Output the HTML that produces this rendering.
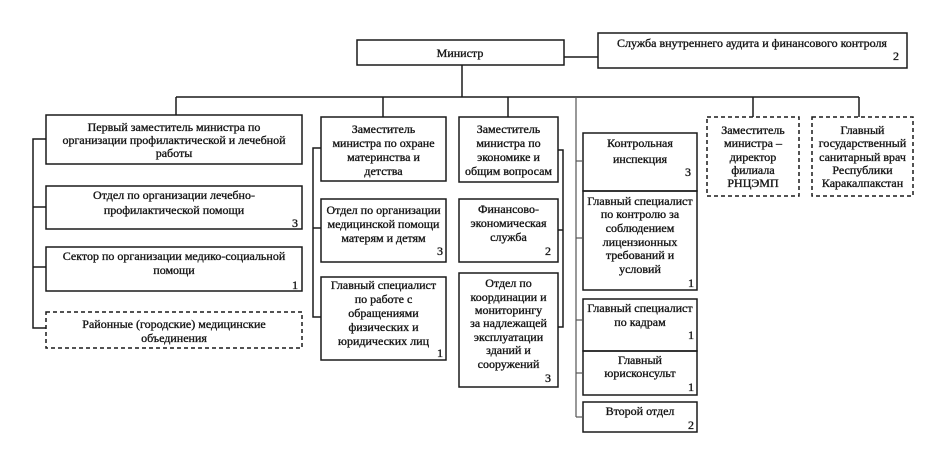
<!DOCTYPE html>
<html><head><meta charset="utf-8"><style>
html,body{margin:0;padding:0;background:#fff;}
svg{display:block;}
text{font-family:"Liberation Serif",serif;font-size:12px;font-weight:normal;fill:#151515;stroke:#151515;stroke-width:0.35;dominant-baseline:central;}
.c{text-anchor:middle;}
.r{text-anchor:end;}
</style></head><body>
<svg width="944" height="462" viewBox="0 0 944 462" xmlns="http://www.w3.org/2000/svg">
<g fill="none" stroke="#1a1a1a" stroke-width="1.5">
<!-- top -->
<rect x="357" y="40" width="207" height="25"/>
<rect x="598" y="33" width="309" height="35"/>
<line x1="564" y1="57" x2="598" y2="57"/>
<line x1="462" y1="65" x2="462" y2="97"/>
<line x1="176" y1="97" x2="859" y2="97"/>
<line x1="176" y1="97" x2="176" y2="115"/>
<line x1="383" y1="97" x2="383" y2="117"/>
<line x1="508" y1="97" x2="508" y2="117"/>
<line x1="753" y1="97" x2="753" y2="117"/>
<line x1="859" y1="97" x2="859" y2="117"/>
<!-- col1 -->
<rect x="46" y="115" width="256" height="49"/>
<rect x="46" y="186" width="256" height="43"/>
<rect x="46" y="247" width="256" height="44"/>
<rect x="46" y="312" width="256" height="36" stroke-dasharray="4 3"/>
<polyline points="46,139 33,139 33,328 46,328"/>
<line x1="33" y1="207" x2="46" y2="207"/>
<line x1="33" y1="267" x2="46" y2="267"/>
<!-- col2 -->
<rect x="321" y="117" width="125" height="64"/>
<rect x="321" y="199" width="125" height="63"/>
<rect x="321" y="277" width="125" height="83"/>
<polyline points="321,148 313,148 313,317 321,317"/>
<line x1="313" y1="228" x2="321" y2="228"/>
<!-- col3 -->
<rect x="459" y="117" width="99" height="65"/>
<rect x="459" y="199" width="99" height="63"/>
<rect x="459" y="273" width="99" height="114"/>
<polyline points="558,150 563,150 563,327 558,327"/>
<line x1="558" y1="230" x2="563" y2="230"/>
<!-- col4 -->
<rect x="583" y="133" width="114" height="58"/>
<rect x="583" y="191" width="114" height="99"/>
<rect x="583" y="299" width="114" height="52"/>
<rect x="583" y="351" width="114" height="44"/>
<rect x="583" y="402" width="114" height="30"/>
</g>
<g fill="none" stroke="#555" stroke-width="1.2">
<line x1="576" y1="97" x2="576" y2="417"/>
<line x1="576" y1="161" x2="583" y2="161"/>
<line x1="576" y1="238" x2="583" y2="238"/>
<line x1="576" y1="320" x2="583" y2="320"/>
<line x1="576" y1="373" x2="583" y2="373"/>
<line x1="576" y1="417" x2="583" y2="417"/>
</g>
<g fill="none" stroke="#1a1a1a" stroke-width="1.5" stroke-dasharray="4 3">
<rect x="707" y="117" width="92" height="79"/>
<rect x="812" y="117" width="101" height="79"/>
</g>

<text class="c" x="460" y="53">Министр</text>
<text class="c" x="752" y="43">Служба внутреннего аудита и финансового контроля</text>
<text class="r" x="899" y="56">2</text>

<text class="c" x="174" y="127">Первый заместитель министра по</text>
<text class="c" x="174" y="140">организации профилактической и лечебной</text>
<text class="c" x="174" y="153">работы</text>

<text class="c" x="174" y="195">Отдел по организации лечебно-</text>
<text class="c" x="174" y="210">профилактической помощи</text>
<text class="r" x="298" y="223">3</text>

<text class="c" x="174" y="256">Сектор по организации медико-социальной</text>
<text class="c" x="174" y="270">помощи</text>
<text class="r" x="298" y="285">1</text>

<text class="c" x="174" y="324">Районные (городские) медицинские</text>
<text class="c" x="174" y="338">объединения</text>

<text class="c" x="383.5" y="129">Заместитель</text>
<text class="c" x="383.5" y="143">министра по охране</text>
<text class="c" x="383.5" y="157">материнства и</text>
<text class="c" x="383.5" y="171">детства</text>

<text class="c" x="383.5" y="210">Отдел по организации</text>
<text class="c" x="383.5" y="224">медицинской помощи</text>
<text class="c" x="383.5" y="238">матерям и детям</text>
<text class="r" x="443" y="251">3</text>

<text class="c" x="383.5" y="285">Главный специалист</text>
<text class="c" x="383.5" y="299">по работе с</text>
<text class="c" x="383.5" y="313">обращениями</text>
<text class="c" x="383.5" y="327">физических и</text>
<text class="c" x="383.5" y="341">юридических лиц</text>
<text class="r" x="443" y="353">1</text>

<text class="c" x="508.5" y="129">Заместитель</text>
<text class="c" x="508.5" y="143">министра по</text>
<text class="c" x="508.5" y="157">экономике и</text>
<text class="c" x="508.5" y="171">общим вопросам</text>

<text class="c" x="508.5" y="209">Финансово-</text>
<text class="c" x="508.5" y="223">экономическая</text>
<text class="c" x="508.5" y="237">служба</text>
<text class="r" x="551" y="251">2</text>

<text class="c" x="508.5" y="283">Отдел по</text>
<text class="c" x="508.5" y="297">координации и</text>
<text class="c" x="508.5" y="310">мониторингу</text>
<text class="c" x="508.5" y="323">за надлежащей</text>
<text class="c" x="508.5" y="337">эксплуатации</text>
<text class="c" x="508.5" y="350">зданий и</text>
<text class="c" x="508.5" y="364">сооружений</text>
<text class="r" x="551" y="378">3</text>

<text class="c" x="640" y="143">Контрольная</text>
<text class="c" x="640" y="159">инспекция</text>
<text class="r" x="691" y="172">3</text>

<text class="c" x="640" y="201">Главный специалист</text>
<text class="c" x="640" y="214">по контролю за</text>
<text class="c" x="640" y="228">соблюдением</text>
<text class="c" x="640" y="242">лицензионных</text>
<text class="c" x="640" y="255">требований и</text>
<text class="c" x="640" y="269">условий</text>
<text class="r" x="694" y="283">1</text>

<text class="c" x="640" y="308">Главный специалист</text>
<text class="c" x="640" y="322">по кадрам</text>
<text class="r" x="694" y="335">1</text>

<text class="c" x="640" y="360">Главный</text>
<text class="c" x="640" y="373">юрисконсульт</text>
<text class="r" x="694" y="387">1</text>

<text class="c" x="640" y="411">Второй отдел</text>
<text class="r" x="694" y="425">2</text>

<text class="c" x="753" y="130">Заместитель</text>
<text class="c" x="753" y="143">министра –</text>
<text class="c" x="753" y="157">директор</text>
<text class="c" x="753" y="170">филиала</text>
<text class="c" x="753" y="183">РНЦЭМП</text>

<text class="c" x="862.5" y="130">Главный</text>
<text class="c" x="862.5" y="143">государственный</text>
<text class="c" x="862.5" y="157">санитарный врач</text>
<text class="c" x="862.5" y="170">Республики</text>
<text class="c" x="862.5" y="183">Каракалпакстан</text>
</svg>
</body></html>
